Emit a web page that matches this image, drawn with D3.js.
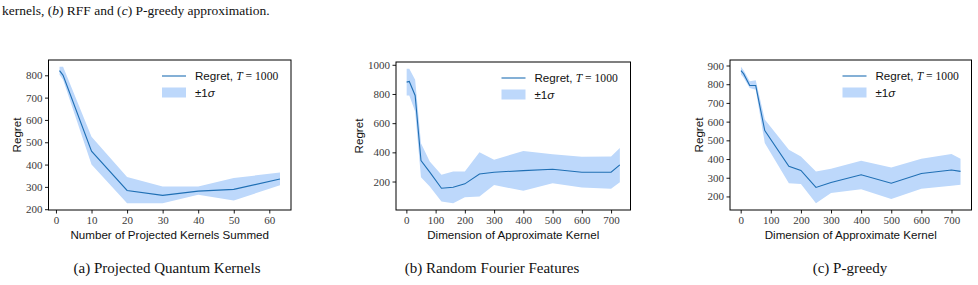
<!DOCTYPE html>
<html>
<head>
<meta charset="utf-8">
<script src="https://cdn.jsdelivr.net/npm/d3@7"></script>
<style>
  body { margin: 0; background: #fff; }
  svg { display: block; }
  .tick-label { font-family: "Liberation Serif", serif; font-size: 11px; fill: #3a3a3a; }
  .axis-label { font-family: "Liberation Sans", sans-serif; font-size: 11.6px; fill: #111; }
  .caption { font-family: "Liberation Serif", serif; font-size: 15px; fill: #111; }
  .head { font-family: "Liberation Serif", serif; font-size: 13.5px; fill: #111; }
</style>
</head>
<body>
<svg id="chart" width="978" height="285"></svg>
<script>
// (a) projected quantum kernels
const pqkKernels = [1, 2, 10, 20, 30, 40, 50, 63];
const pqkMean = [821, 800, 460, 284, 262, 281, 289, 335];
const pqkUpper = [838, 838, 525, 344, 302, 302, 340, 364];
const pqkLower = [803, 780, 400, 227, 227, 265, 239, 307];
const pqkXTicks = [0, 10, 20, 30, 40, 50, 60];
const pqkYTicks = [200, 300, 400, 500, 600, 700, 800];

// (b) random fourier features
const rffDims = [1, 10, 30, 50, 80, 120, 160, 200, 250, 300, 400, 500, 600, 700, 730];
const rffMean = [881, 886, 790, 344, 264, 154, 161, 184, 252, 264, 275, 284, 264, 264, 314];
const rffUpper = [973, 973, 897, 463, 337, 246, 269, 269, 401, 349, 410, 387, 369, 371, 429];
const rffLower = [790, 790, 680, 230, 166, 63, 51, 93, 97, 177, 136, 188, 159, 150, 195];
const rffXTicks = [0, 100, 200, 300, 400, 500, 600, 700];
const rffYTicks = [200, 400, 600, 800, 1000];

// (c) p-greedy
const pgDims = [1, 10, 30, 50, 80, 160, 200, 250, 300, 400, 500, 600, 700, 730];
const pgMean = [873, 855, 793, 793, 552, 361, 339, 248, 275, 316, 271, 323, 341, 334];
const pgUpper = [893, 873, 816, 821, 611, 450, 414, 334, 348, 391, 355, 402, 427, 402];
const pgLower = [852, 834, 780, 771, 486, 271, 266, 164, 218, 239, 186, 241, 257, 262];
const pgXTicks = [0, 100, 200, 300, 400, 500, 600, 700];
const pgYTicks = [200, 300, 400, 500, 600, 700, 800, 900];

const xLabels = ["Number of Projected Kernels Summed", "Dimension of Approximate Kernel", "Dimension of Approximate Kernel"];
const captions = ["(a) Projected Quantum Kernels", "(b) Random Fourier Features", "(c) P-greedy"];

const lineColor = "#1f6fb4";
const bandColor = "#bdd8fb";

let svg = d3.select("#chart");
svg.append("rect").attr("width", 978).attr("height", 285).attr("fill", "#fff");

// caption line from the paper text above the figure
let headLine = svg.append("text").attr("class", "head").attr("x", 2).attr("y", 15);
headLine.append("tspan").text("kernels, (");
headLine.append("tspan").attr("font-style", "italic").text("b");
headLine.append("tspan").text(") RFF and (");
headLine.append("tspan").attr("font-style", "italic").text("c");
headLine.append("tspan").text(") P-greedy approximation.");

// pads the extent like matplotlib's default 5% margins
function padded(lo, hi) {
    let m = (hi - lo) * 0.05;
    return [lo - m, hi + m];
}

function drawPanel(p) {
    let g = svg.append("g");

    let xScale = d3.scaleLinear()
        .domain(padded(d3.min(p.x), d3.max(p.x)))
        .range([p.left, p.right]);
    let yScale = d3.scaleLinear()
        .domain(padded(d3.min(p.lower), d3.max(p.upper)))
        .range([p.bottom, p.top]);

    let pts = p.x.map((x, i) => ({ x: x, m: p.mean[i], lo: p.lower[i], hi: p.upper[i] }));

    let area = d3.area()
        .x(d => xScale(d.x))
        .y0(d => yScale(d.lo))
        .y1(d => yScale(d.hi));
    g.append("path").datum(pts).attr("d", area).attr("fill", bandColor);

    let line = d3.line().x(d => xScale(d.x)).y(d => yScale(d.m));
    g.append("path").datum(pts).attr("d", line)
        .attr("fill", "none").attr("stroke", lineColor).attr("stroke-width", 1.1);

    let xAxis = d3.axisBottom(xScale).tickValues(p.xTicks).tickFormat(d3.format("d"))
        .tickSize(3.5).tickPadding(2.5);
    let yAxis = d3.axisLeft(yScale).tickValues(p.yTicks).tickFormat(d3.format("d"))
        .tickSize(3.5).tickPadding(2.5);

    let gx = g.append("g").attr("transform", `translate(0,${p.bottom})`).call(xAxis);
    let gy = g.append("g").attr("transform", `translate(${p.left},0)`).call(yAxis);
    [gx, gy].forEach(a => {
        a.attr("font-size", null).attr("font-family", null);
        a.select(".domain").remove();
        a.selectAll("line").attr("stroke", "#000").attr("stroke-width", 0.9);
        a.selectAll("text").attr("class", "tick-label").attr("fill", null);
    });

    g.append("rect")
        .attr("x", p.left).attr("y", p.top)
        .attr("width", p.right - p.left).attr("height", p.bottom - p.top)
        .attr("fill", "none").attr("stroke", "#000").attr("stroke-width", 1);

    g.append("text").attr("class", "axis-label")
        .attr("transform", `translate(${p.yLabelX},${(p.top + p.bottom) / 2}) rotate(-90)`)
        .attr("text-anchor", "middle").text("Regret");

    g.append("text").attr("class", "axis-label")
        .attr("x", (p.left + p.right) / 2).attr("y", 239)
        .attr("text-anchor", "middle").text(p.xLabel);

    g.append("text").attr("class", "caption")
        .attr("x", p.captionX).attr("y", 273)
        .attr("text-anchor", "middle").text(p.caption);

    // legend
    let lx = p.right - 129;
    g.append("line").attr("x1", lx).attr("x2", lx + 24)
        .attr("y1", p.top + 16).attr("y2", p.top + 16)
        .attr("stroke", lineColor).attr("stroke-width", 1.1);
    g.append("rect").attr("x", lx).attr("y", p.top + 27.5)
        .attr("width", 24).attr("height", 10).attr("fill", bandColor);

    let t1 = g.append("text").attr("class", "axis-label").attr("x", lx + 33).attr("y", p.top + 20);
    t1.append("tspan").text("Regret, ");
    t1.append("tspan").attr("font-family", "Liberation Serif, serif").attr("font-style", "italic").text("T");
    t1.append("tspan").attr("font-family", "Liberation Serif, serif").text(" = 1000");

    let t2 = g.append("text").attr("class", "axis-label").attr("x", lx + 33).attr("y", p.top + 36.5)
        .attr("font-family", "Liberation Serif, serif");
    t2.append("tspan").text("\u00b11");
    t2.append("tspan").attr("font-style", "italic").text("\u03c3");
}

drawPanel({ x: pqkKernels, mean: pqkMean, upper: pqkUpper, lower: pqkLower,
    xTicks: pqkXTicks, yTicks: pqkYTicks, left: 48.5, right: 291, top: 60, bottom: 210,
    yLabelX: 21, xLabel: xLabels[0], caption: captions[0], captionX: 167 });
drawPanel({ x: rffDims, mean: rffMean, upper: rffUpper, lower: rffLower,
    xTicks: rffXTicks, yTicks: rffYTicks, left: 396, right: 630.5, top: 62, bottom: 210,
    yLabelX: 363, xLabel: xLabels[1], caption: captions[1], captionX: 492 });
drawPanel({ x: pgDims, mean: pgMean, upper: pgUpper, lower: pgLower,
    xTicks: pgXTicks, yTicks: pgYTicks, left: 730, right: 971.5, top: 60, bottom: 210,
    yLabelX: 703, xLabel: xLabels[2], caption: captions[2], captionX: 850 });
</script>
</body>
</html>
